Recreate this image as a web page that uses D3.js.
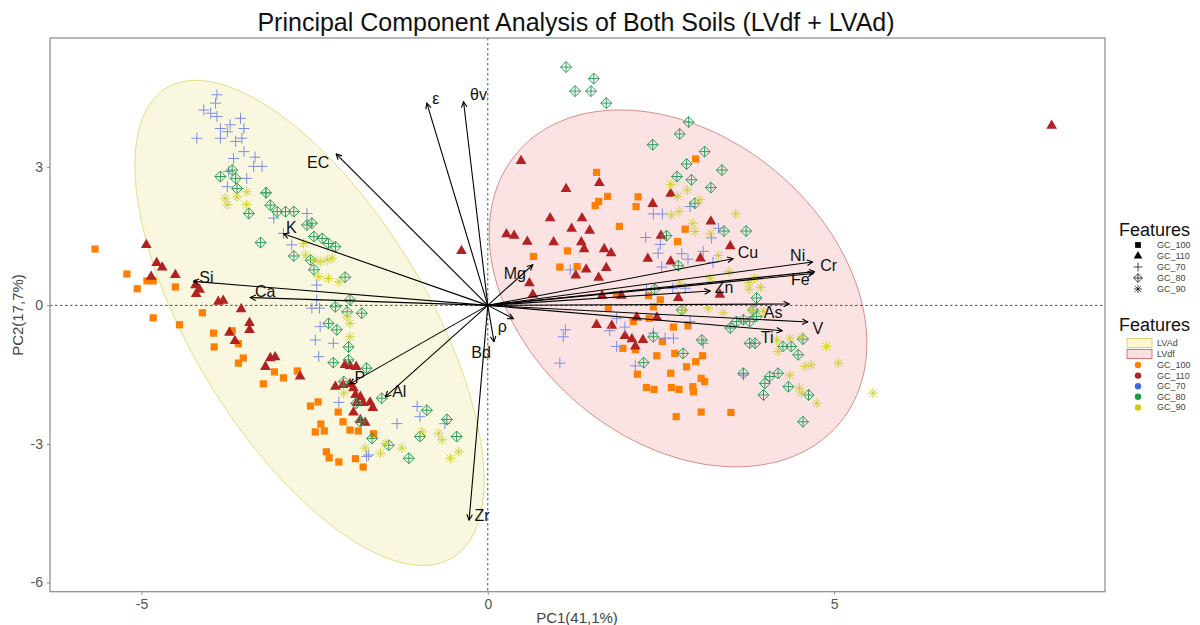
<!DOCTYPE html>
<html>
<head>
<meta charset="utf-8">
<script src="https://cdn.jsdelivr.net/npm/d3@7/dist/d3.min.js"></script>
<style>
  body { margin: 0; background: #fff; }
  svg { font-family: "Liberation Sans", Arial, sans-serif; }
</style>
</head>
<body>
<div id="chart"></div>
<script>
// ---- data (PC1, PC2 scores) ----
const gc100 = [
  [-5.67,1.22],[-5.21,0.68],[-5.06,0.36],[-4.92,0.53],[-4.83,0.53],[-4.83,-0.27],[-4.51,0.40],[-4.45,-0.42],
  [-4.12,-0.16],[-3.96,-0.60],[-3.69,-0.55],[-3.95,-0.90],[-3.60,-0.83],[-3.53,-1.14],[-3.60,-1.25],[-3.24,-1.70],
  [-3.08,-1.44],[-2.95,-1.57],[-2.75,-1.42],[-2.56,-2.18],[-2.45,-2.09],[-2.16,-2.31],[-2.09,-2.52],[-2.41,-2.57],
  [-2.49,-2.74],[-2.36,-2.72],[-1.99,-2.70],[-1.87,-2.72],[-1.65,-2.78],[-2.33,-3.17],[-2.29,-3.30],[-2.15,-3.39],
  [-1.91,-3.32],[-1.80,-3.50],
  [1.57,2.88],[1.60,2.25],[1.55,2.16],[1.73,2.36],[2.17,2.35],[2.14,2.14],[1.90,1.71],[2.85,1.65],[3.00,3.17],
  [2.74,1.38],[1.15,1.18],[1.04,0.83],[1.29,0.84],[0.66,1.06],
  [1.86,0.23],[2.32,0.21],[2.49,0.12],[1.74,-0.06],[2.39,-0.03],[2.10,-0.35],[2.33,-0.28],[2.68,-0.47],[2.89,-0.44],
  [2.52,-0.78],[1.95,-0.93],[2.13,-0.96],[2.44,-1.09],[2.70,-1.04],[3.10,-1.09],[3.00,-1.22],[2.87,-1.33],
  [2.16,-1.49],[2.64,-1.47],[3.08,-1.58],[3.13,-1.65],[2.29,-1.78],[2.40,-1.82],[2.65,-1.78],[2.76,-1.82],
  [2.96,-1.76],[2.97,-1.87],[2.72,-2.41],[3.08,-2.31],[3.51,-2.32]
];
const gc110 = [
  [-4.93,1.31],[-4.78,0.92],[-4.70,0.82],[-4.51,0.66],[-4.86,0.62],[-4.22,0.44],[-4.16,0.34],[-4.21,0.25],
  [-3.89,0.08],[-3.82,0.10],[-3.56,-0.08],[-3.44,-0.38],[-3.44,-0.53],[-3.73,-0.59],[-3.65,-0.77],[-3.14,-1.14],
  [-3.07,-1.12],[-3.21,-1.33],[-2.71,-1.54],[-2.20,-1.76],[-2.06,-1.29],[-1.99,-1.31],[-1.90,-1.33],[-1.99,-1.70],
  [-1.94,-1.79],[-1.91,-1.94],[-1.84,-1.98],[-1.89,-2.11],[-1.80,-2.11],[-1.70,-2.10],[-1.66,-2.22],[-1.94,-2.32],
  [-1.77,-2.54],[-1.84,-2.48],[-2.09,-1.72],[-0.38,1.18],
  [0.48,3.13],[1.13,2.52],[1.61,2.65],[0.90,1.89],[1.36,1.89],[1.21,1.66],[1.47,1.62],[0.27,1.54],[0.38,1.51],
  [0.57,1.38],[0.95,1.37],[1.35,1.37],[1.39,1.22],[1.68,1.22],[1.78,1.13],[1.71,0.81],[1.42,0.78],[1.60,0.60],
  [1.27,0.65],[0.60,0.48],[0.65,0.23],[2.64,2.42],[2.38,2.20],[3.22,1.82],[2.50,1.51],[3.50,1.28],[2.31,1.01],
  [2.64,0.95],[3.07,1.02],[1.65,0.21],[1.93,0.21],[2.75,0.16],[3.35,0.23],
  [1.57,-0.42],[1.79,-0.44],[1.98,-0.66],[2.08,-0.73],[2.24,-0.75],[2.13,-0.89],[2.44,-0.26],[2.15,-0.26],
  [8.14,3.89]
];
const gc70 = [
  [-3.91,4.56],[-3.93,4.38],[-4.10,4.23],[-4.00,4.16],[-3.91,4.09],[-3.86,3.83],[-3.57,4.05],[-3.72,3.91],
  [-3.76,3.76],[-3.52,3.83],[-4.20,3.62],[-3.86,3.62],[-3.64,3.55],[-3.55,3.62],[-3.52,3.33],[-3.67,3.18],
  [-3.36,3.21],[-3.38,3.01],[-3.26,3.01],[-3.74,2.90],[-3.48,2.75],[-3.76,2.57],[-3.21,2.43],[-3.09,1.89],
  [-2.61,1.99],[-2.83,1.31],[-2.95,1.56],[-2.47,0.44],[-2.47,0.12],[-2.54,-0.06],[-2.43,-0.06],[-2.42,-0.46],
  [-2.49,-0.75],[-2.23,-0.82],[-2.44,-1.11],[-2.15,-2.10],[-1.02,-2.19],[-0.98,-2.41],[-1.31,-2.56],[-0.62,-2.56],
  [-1.72,-3.24],[-1.75,-3.27],
  [2.39,1.98],[2.52,1.98],[2.28,1.47],[2.49,1.32],[2.46,1.13],[2.80,1.12],[2.89,1.00],[3.11,1.17],[3.25,0.93],
  [2.51,0.83],[1.19,0.77],[3.33,1.67],[3.23,1.46],[2.92,2.14],[2.67,0.37],[2.85,0.37],[2.29,0.34],
  [1.12,-0.53],[1.09,-0.68],[1.04,-1.25],[1.76,-0.55],[1.86,-0.28],[1.98,-0.47],[2.13,-1.31],[1.86,-0.89],
  [2.39,-0.60],[2.56,-0.71],[2.68,-0.71],[2.92,-0.35],[3.11,-0.82],[3.69,-1.51]
];
const gc80 = [
  [-3.86,2.79],[-3.69,2.93],[-3.64,2.75],[-3.62,2.53],[-3.45,1.99],[-3.20,2.44],[-3.14,2.17],[-3.04,2.03],
  [-2.92,2.03],[-2.80,2.03],[-3.28,1.36],[-2.80,1.07],[-2.61,1.74],[-2.54,1.78],[-2.51,1.49],[-2.39,1.45],
  [-2.30,1.34],[-2.20,1.27],[-2.56,0.98],[-2.51,0.77],[-2.06,0.61],[-1.99,0.12],[-2.20,-0.03],[-2.03,-0.14],
  [-1.82,-0.17],[-2.30,-0.39],[-2.18,-0.53],[-2.01,-0.90],[-2.23,-1.24],[-2.01,-1.18],[-1.75,-1.36],[-2.08,-1.65],
  [-1.53,-2.01],[-1.67,-2.88],[-0.88,-2.27],[-0.59,-2.47],[-0.45,-2.84],[-0.98,-2.84],[-1.43,-3.03],[-1.14,-3.31],
  [-1.90,-2.12],[-1.84,-2.52],
  [1.13,5.16],[1.53,4.91],[1.26,4.64],[1.49,4.64],[1.71,4.38],[2.90,3.97],[2.77,3.71],[2.38,3.48],[3.13,3.33],
  [2.87,3.06],[3.38,2.93],[2.73,2.79],[2.94,2.72],[3.22,2.55],[2.99,2.21],[3.41,1.61],[3.73,1.61],[2.58,1.51],
  [2.75,0.86],[2.41,0.35],[3.88,0.16],
  [2.39,-0.68],[2.80,-0.10],[3.09,-0.75],[2.82,-1.04],[2.25,-1.24],[3.69,-1.47],[4.07,-1.54],[4.19,-1.47],
  [4.00,-1.69],[3.98,-1.94],[4.34,-1.76],[4.63,-1.94],[4.55,-2.52],[3.78,-0.82],[3.86,-0.82],[4.26,-0.89],
  [4.38,-0.89],[4.48,-1.07],[4.55,-0.73],[3.50,-0.49],[3.59,-0.35],[3.69,-0.31],[3.78,-0.35],[3.88,-0.24],[3.83,-0.10]
];
const gc90 = [
  [-3.79,2.32],[-3.76,2.18],[-3.62,2.35],[-3.48,2.46],[-3.48,2.18],[-2.66,1.34],[-2.63,1.09],[-2.51,0.98],
  [-2.42,0.95],[-2.32,0.98],[-2.25,1.02],[-2.44,0.62],[-2.30,0.58],[-2.15,0.51],[-2.03,-0.25],[-1.99,-0.39],
  [-1.99,-0.68],[-2.08,-1.90],[-0.95,-2.74],[-0.71,-2.77],[-0.66,-2.91],[-0.54,-3.31],[-0.42,-3.17],[-1.24,-3.09],
  [-1.48,-2.99],[-1.55,-3.20],[-1.77,-3.09],
  [2.64,2.62],[2.74,2.36],[2.88,2.50],[3.06,2.29],[2.76,2.03],[2.65,1.96],[2.96,1.78],[2.99,1.60],[3.21,1.56],
  [3.58,1.98],[3.33,1.08],[3.48,0.73],[3.85,0.59],[3.77,0.49],[3.94,0.39],[3.77,0.35],[3.21,0.59],[2.77,0.48],
  [3.18,-0.06],[3.40,-0.16],[2.82,-0.10],[3.81,-0.10],[4.17,-0.75],[4.36,-0.71],[4.53,-0.68],[4.89,-0.89],
  [4.19,-1.00],[4.58,-1.32],[4.67,-1.29],[5.06,-1.25],[4.36,-1.51],[4.50,-1.79],[4.53,-1.90],[4.75,-2.12],
  [5.56,-1.90],[3.98,-0.13]
];

// variable loadings (arrow tips)
const varNames = ["ε","θv","EC","K","Si","Ca","P","Al","Bd","ρ","Zr","Mg","Cu","Ni","Cr","Fe","Zn","As","V","Ti"];
const varPC1 = [-0.88,-0.35,-2.19,-2.95,-4.25,-3.43,-1.99,-1.48,0.09,0.37,-0.27,0.65,3.54,4.69,4.72,4.70,3.21,4.35,4.62,4.25];
const varPC2 = [4.38,4.41,3.28,1.55,0.52,0.17,-1.70,-1.98,-0.79,-0.29,-4.65,0.88,1.01,0.94,0.73,0.69,0.31,0.03,-0.36,-0.55];

// concentration ellipses: centre and two conjugate semi-axes
const lvadCenter = [-2.574, -0.379];
const lvadAxes = [[2.068, -5.084], [-1.441, -1.321]];
const lvdfCenter = [2.746, 0.368];
const lvdfAxes = [[2.336, -2.913], [-1.406, -2.540]];

const groupNames = ["GC_100", "GC_110", "GC_70", "GC_80", "GC_90"];
const soilNames = ["LVAd", "LVdf"];
const xTicks = [-5, 0, 5];
const yTicks = [-6, -3, 0, 3];

// ---- drawing ----
const W = 1200, H = 625;
const svg = d3.select('#chart').append('svg')
  .attr('width', W).attr('height', H)
  .attr('viewBox', '0 0 ' + W + ' ' + H);

const x = d3.scaleLinear().domain([-6.32, 8.91]).range([50, 1105]);
const y = d3.scaleLinear().domain([-6.2, 5.79]).range([591.7, 38]);

// ellipses
const ellipsePath = (c, ax) => {
  const pts = d3.range(0, 361, 3).map(a => {
    const t = a * Math.PI / 180;
    return [x(c[0] + ax[0][0] * Math.cos(t) + ax[1][0] * Math.sin(t)),
            y(c[1] + ax[0][1] * Math.cos(t) + ax[1][1] * Math.sin(t))];
  });
  return d3.line()(pts) + 'Z';
};
svg.append('path').attr('d', ellipsePath(lvadCenter, lvadAxes))
  .attr('fill', '#f9f7df').attr('stroke', '#e2df86').attr('stroke-width', 1);
svg.append('path').attr('d', ellipsePath(lvdfCenter, lvdfAxes))
  .attr('fill', '#fbe3e3').attr('stroke', '#d98c8c').attr('stroke-width', 1);

// reference lines
svg.append('line').attr('x1', x(0)).attr('x2', x(0)).attr('y1', y.range()[1]).attr('y2', y.range()[0])
  .attr('stroke', '#222').attr('stroke-width', 0.8).attr('stroke-dasharray', '2.5,2.5');
svg.append('line').attr('x1', x.range()[0]).attr('x2', x.range()[1]).attr('y1', y(0)).attr('y2', y(0))
  .attr('stroke', '#222').attr('stroke-width', 0.8).attr('stroke-dasharray', '2.5,2.5');

// point shapes
const shapes = {
  GC_100: { d: 'M-3.6,-3.6H3.6V3.6H-3.6Z', fill: '#ff7f00', stroke: 'none' },
  GC_110: { d: d3.symbol(d3.symbolTriangle, 50)(), fill: '#b22222', stroke: 'none' },
  GC_70: { d: 'M-5.5,0H5.5M0,-5.5V5.5', fill: 'none', stroke: '#7d8fe3' },
  GC_80: { d: 'M0,-5.5L5.5,0L0,5.5L-5.5,0ZM-5.5,0H5.5M0,-5.5V5.5', fill: 'none', stroke: '#2f9d5c' },
  GC_90: { d: 'M-5,0H5M0,-5V5M-3.6,-3.6L3.6,3.6M-3.6,3.6L3.6,-3.6', fill: 'none', stroke: '#d2d236' }
};
const legendColors = { GC_100: '#ff8000', GC_110: '#b22222', GC_70: '#3e6be3', GC_80: '#1e9a45', GC_90: '#cccc11' };

const groups = [gc100, gc110, gc70, gc80, gc90];
groups.forEach((pts, i) => {
  const s = shapes[groupNames[i]];
  svg.append('g').selectAll('path').data(pts).join('path')
    .attr('d', s.d)
    .attr('transform', d => 'translate(' + x(d[0]) + ',' + y(d[1]) + ')')
    .attr('fill', s.fill).attr('stroke', s.stroke).attr('stroke-width', 1);
});

// loading arrows
svg.append('defs').append('marker')
  .attr('id', 'ah').attr('viewBox', '0 0 10 10').attr('refX', 9).attr('refY', 5)
  .attr('markerWidth', 7).attr('markerHeight', 7).attr('markerUnits', 'userSpaceOnUse')
  .attr('orient', 'auto')
  .append('path').attr('d', 'M1,1L9,5L1,9').attr('fill', 'none').attr('stroke', '#000').attr('stroke-width', 1.6);

const nudge = {
  'ε': [9, -5], 'θv': [15, -7], 'EC': [-18, 9], 'K': [8, -6], 'Si': [13, -4], 'Ca': [15, -6],
  'P': [10, -6], 'Al': [14, -5], 'Bd': [-13, 11], 'ρ': [-11, 8], 'Zr': [13, -5], 'Mg': [-18, 9],
  'Cu': [15, -6], 'Ni': [-15, -6], 'Cr': [14, -6], 'Fe': [-13, 6], 'Zn': [14, -4], 'As': [-16, 9],
  'V': [10, 6], 'Ti': [-15, 7]
};
const loadings = varNames.map((n, i) => ({ name: n, pc1: varPC1[i], pc2: varPC2[i] }));
const arrows = svg.append('g');
arrows.selectAll('line').data(loadings).join('line')
  .attr('x1', x(0)).attr('y1', y(0))
  .attr('x2', d => x(d.pc1)).attr('y2', d => y(d.pc2))
  .attr('stroke', '#000').attr('stroke-width', 1.1).attr('marker-end', 'url(#ah)');
arrows.selectAll('text').data(loadings).join('text')
  .attr('x', d => x(d.pc1) + nudge[d.name][0])
  .attr('y', d => y(d.pc2) + nudge[d.name][1])
  .attr('text-anchor', 'middle').attr('dominant-baseline', 'central')
  .attr('font-size', 16).attr('fill', '#111')
  .text(d => d.name);

// panel border and axes
svg.append('rect').attr('x', x.range()[0]).attr('y', y.range()[1])
  .attr('width', x.range()[1] - x.range()[0]).attr('height', y.range()[0] - y.range()[1])
  .attr('fill', 'none').attr('stroke', '#8a8a8a').attr('stroke-width', 1.2);

const xAxis = svg.append('g').attr('transform', 'translate(0,' + y.range()[0] + ')')
  .call(d3.axisBottom(x).tickValues(xTicks).tickSize(3).tickPadding(4).tickFormat(d3.format('d')));
const yAxis = svg.append('g').attr('transform', 'translate(' + x.range()[0] + ',0)')
  .call(d3.axisLeft(y).tickValues(yTicks).tickSize(3).tickPadding(4).tickFormat(d3.format('d')));
[xAxis, yAxis].forEach(a => {
  a.select('.domain').remove();
  a.selectAll('line').attr('stroke', '#8a8a8a');
  a.selectAll('text').attr('fill', '#555').attr('font-size', 14)
    .attr('font-family', '"Liberation Sans", Arial, sans-serif');
});
yAxis.selectAll('text').text(d => d < 0 ? '-' + Math.abs(d) : d);
xAxis.selectAll('text').text(d => d < 0 ? '-' + Math.abs(d) : d);

svg.append('text').attr('x', 577).attr('y', 623).attr('text-anchor', 'middle')
  .attr('font-size', 15).attr('fill', '#444').text('PC1(41,1%)');
svg.append('text').attr('transform', 'translate(23,315) rotate(-90)').attr('text-anchor', 'middle')
  .attr('font-size', 15).attr('fill', '#444').text('PC2(17,7%)');

svg.append('text').attr('x', 576).attr('y', 31).attr('text-anchor', 'middle')
  .attr('font-size', 25).attr('fill', '#111')
  .text('Principal Component Analysis of Both Soils (LVdf + LVAd)');

// legends
const lg = svg.append('g');
lg.append('text').attr('x', 1119).attr('y', 236).attr('font-size', 18).attr('fill', '#111').text('Features');
groupNames.forEach((g, i) => {
  const yy = 245 + i * 11;
  const s = shapes[g];
  lg.append('path').attr('d', s.d)
    .attr('transform', 'translate(1138,' + yy + ') scale(0.8)')
    .attr('fill', s.fill === 'none' ? 'none' : '#000')
    .attr('stroke', s.stroke === 'none' ? 'none' : '#000').attr('stroke-width', 0.9);
  lg.append('text').attr('x', 1157).attr('y', yy).attr('dominant-baseline', 'central')
    .attr('font-size', 9).attr('fill', '#444').text(g);
});
lg.append('text').attr('x', 1119).attr('y', 331).attr('font-size', 18).attr('fill', '#111').text('Features');
const soilFill = ['#fdf7d2', '#f9dfdf'];
const soilStroke = ['#d9c45c', '#cc5a5a'];
soilNames.forEach((s, i) => {
  const yy = 343 + i * 11;
  lg.append('rect').attr('x', 1127).attr('y', yy - 4.5).attr('width', 25).attr('height', 9)
    .attr('fill', soilFill[i]).attr('stroke', soilStroke[i]).attr('stroke-width', 0.8);
  lg.append('text').attr('x', 1157).attr('y', yy).attr('dominant-baseline', 'central')
    .attr('font-size', 9).attr('fill', '#444').text(s);
});
groupNames.forEach((g, i) => {
  const yy = 365 + i * 10.6;
  lg.append('circle').attr('cx', 1138).attr('cy', yy).attr('r', 3.2).attr('fill', legendColors[g]);
  lg.append('text').attr('x', 1157).attr('y', yy).attr('dominant-baseline', 'central')
    .attr('font-size', 9).attr('fill', '#444').text(g);
});
</script>
</body>
</html>
